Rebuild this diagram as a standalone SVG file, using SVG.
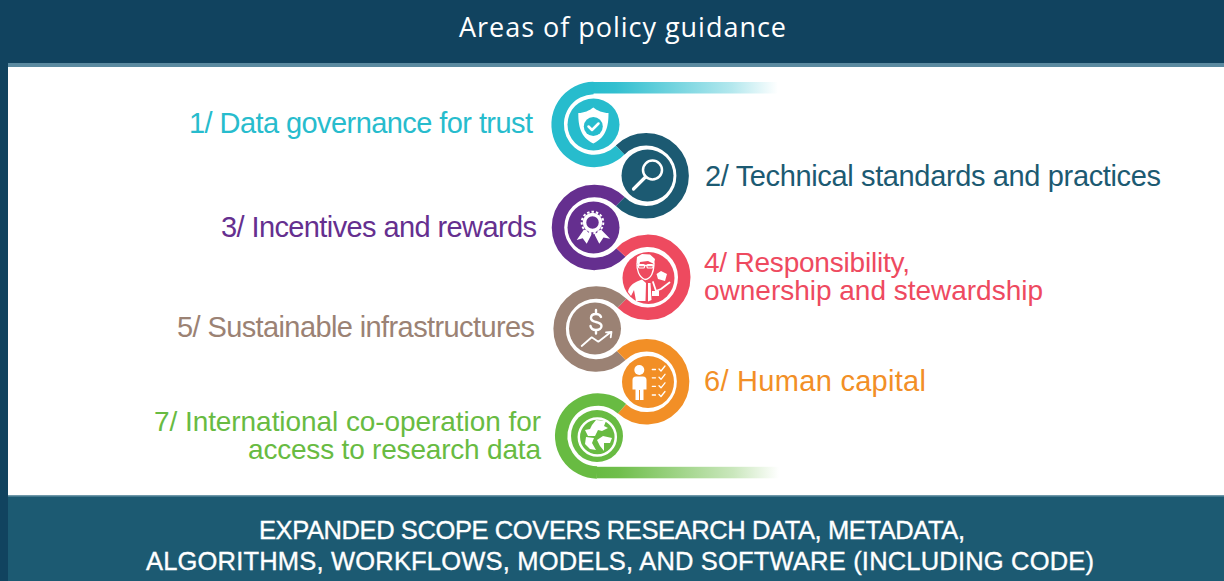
<svg xmlns="http://www.w3.org/2000/svg" width="1224" height="581" viewBox="0 0 1224 581">
<style>
.ring{fill:none;stroke-width:12.5}
.lbl{font-family:"Liberation Sans",Arial,sans-serif;font-size:29px}
.two{font-size:28px}
.foot{font-family:"Liberation Sans",Arial,sans-serif;font-size:25.5px;fill:#fff;stroke:#fff;stroke-width:.35px;text-anchor:middle}
.ico{fill:#fff;stroke:none}
.ln{fill:none;stroke:#fff;stroke-linecap:round;stroke-linejoin:round}
</style>
<defs>
<linearGradient id="gTeal" x1="0" x2="1" y1="0" y2="0"><stop offset="0" stop-color="#27bccd"/><stop offset=".12" stop-color="#27bccd" stop-opacity=".95"/><stop offset=".75" stop-color="#27bccd" stop-opacity=".35"/><stop offset="1" stop-color="#27bccd" stop-opacity="0"/></linearGradient>
<linearGradient id="gGreen" x1="0" x2="1" y1="0" y2="0"><stop offset="0" stop-color="#68bb42"/><stop offset=".12" stop-color="#68bb42" stop-opacity=".95"/><stop offset=".75" stop-color="#68bb42" stop-opacity=".35"/><stop offset="1" stop-color="#68bb42" stop-opacity="0"/></linearGradient>
</defs>
<rect width="1224" height="581" fill="#11435f"/>
<rect x="8" y="63" width="1216" height="4.500" fill="#5b8aa0"/>
<rect x="8" y="67" width="1216" height="429" fill="#fff"/>
<rect x="8" y="495.500" width="1216" height="85.500" fill="#1c5a72"/>
<rect x="8" y="495" width="1216" height="1.500" fill="#6f98a9"/>
<text id="title" x="622.500" y="37" text-anchor="middle" font-family="'Open Sans','Noto Sans',sans-serif" font-size="27" fill="#fff" textLength="327">Areas of policy guidance</text>

<g id="node1">
<rect x="593" y="82" width="185" height="11.500" fill="url(#gTeal)"/>
<path class="ring" stroke="#27bccd" d="M593.500,88 A36.500,36.500 0 1 0 620.250,150"/>
<circle cx="593.500" cy="124.500" r="26" fill="#27bccd"/>
<path class="ico" d="M593.300,107.500 C597,110.500 603,113 608.500,113 C608.500,125 607,137 593.300,143.500 C580,137 578.300,125 578.300,113 C584,113 589.500,110.500 593.300,107.500Z"/>
<circle cx="593.300" cy="126.500" r="9.500" fill="#27bccd"/>
<path class="ln" stroke-width="2.500" d="M588.500,126.500 L592,130 L598.500,123.500"/>
<text class="lbl" x="533" y="133" fill="#27bccd" text-anchor="end" textLength="344">1/ Data governance for trust</text>
</g>

<g id="node2">
<path class="ring" stroke="#1c5a72" d="M620.250,150 A36.500,36.500 0 1 1 620.250,201.500"/>
<circle cx="647.500" cy="175.500" r="26" fill="#1c5a72"/>
<circle class="ln" cx="652.500" cy="170" r="9.500" stroke-width="2.500"/>
<path class="ln" stroke-width="3.200" d="M645.500,177 L633.500,189"/>
<text class="lbl" x="705" y="186" fill="#1c5a72" textLength="456">2/ Technical standards and practices</text>
</g>

<g id="node3">
<path class="ring" stroke="#652f8f" d="M620.250,201.500 A36.500,36.500 0 1 0 621,252.500"/>
<circle cx="593.500" cy="227.500" r="26" fill="#652f8f"/>
<circle class="ln" cx="592.500" cy="222.500" r="8" stroke-width="3.500"/>
<circle cx="592.500" cy="222.500" r="10.800" fill="none" stroke="#fff" stroke-width="2" stroke-dasharray="2.500 2"/>
<path class="ico" d="M584,229.500 L576.700,240 L582.700,238.200 L586.700,243.800 L591.500,234.500Z M601,229.500 L610,238.800 L603.500,237.500 L599.300,243.800 L594.500,234.500Z"/>
<text class="lbl" x="537" y="237" fill="#652f8f" text-anchor="end" textLength="316">3/ Incentives and rewards</text>
</g>

<g id="node4">
<path class="ring" stroke="#ee4a5f" d="M621,252.500 A36.500,36.500 0 1 1 622,303.250"/>
<circle cx="648.500" cy="278" r="26" fill="#ee4a5f"/>
<path class="ico" d="M636.500,262 L637,257 L642,254 L650,254.500 L655,259 L654,264 L648,261 L640,262 L639,266Z"/>
<path class="ln" stroke-width="1.300" d="M637,263 C636.500,270 639,277 645,279.500 C651,279 654,272 654,263 M637,265.500 H654"/>
<rect x="638.500" y="264.500" width="6" height="3.500" rx="1" class="ln" stroke-width="1.100"/>
<rect x="647" y="264.500" width="6" height="3.500" rx="1" class="ln" stroke-width="1.100"/>
<path class="ico" d="M628,292 C629,285 635,282 642,279.500 L646,283 L645.500,301 L636,301 L634,290 L631,296Z"/>
<path class="ico" d="M648,283 L650.500,283 L651.500,300 L648,301.500Z"/>
<path class="ln" stroke-width="1.800" d="M653,282 L656,291 L661,289 L669.500,282.500"/>
<path class="ico" d="M661,271 L667,274 L665,281 L658,279 L656.500,274Z"/>
<rect x="652" y="291" width="7" height="5" class="ico"/>
<text class="lbl two" x="704" y="272" fill="#ee4a5f" textLength="206">4/ Responsibility,</text>
<text class="lbl two" x="704" y="300" fill="#ee4a5f" textLength="339">ownership and stewardship</text>
</g>

<g id="node5">
<path class="ring" stroke="#9b8274" d="M622,303.250 A36.500,36.500 0 1 0 621.250,355.500"/>
<circle cx="595" cy="328.500" r="26" fill="#9b8274"/>
<path class="ln" stroke-width="2.400" d="M601,317 C600,314.500 598,314 596,314 C592.500,314 591,316 591,318 C591,321 594,321.500 596,322 C599,322.700 601.500,323.500 601.500,326 C601.500,328.500 599,330 596,330 C593,330 591,329 590.500,326 M596,310 V314 M596,330 V333.500"/>
<path class="ln" stroke-width="1.800" d="M581.700,346 L591.700,337.300 L598.300,341.700 L610,332.700 M606,332.300 L611.500,331.800 L610.700,337.300"/>
<text class="lbl" x="535" y="337" fill="#9b8274" text-anchor="end" textLength="358">5/ Sustainable infrastructures</text>
</g>

<g id="node6">
<path class="ring" stroke="#f28f26" d="M621.250,355.500 A36.500,36.500 0 1 1 622,408.750"/>
<circle cx="648" cy="382" r="26" fill="#f28f26"/>
<circle class="ico" cx="639.300" cy="370" r="5"/>
<path class="ico" d="M632.500,380 Q632.500,376.500 636,376.500 H643 Q646.500,376.500 646.500,380 V389.500 H643.500 V400 H640 V390 H639 V400 H635.500 V389.500 H632.500Z"/>
<path class="ln" stroke-width="1.300" d="M652.300,369.500 H655.500 M652.300,377.800 H655.500 M652.300,386.300 H655.500 M652.300,395 H655.500 M659,369 L661,371 L665,366 M659,377.300 L661,379.300 L665,374.300 M659,385.800 L661,387.800 L665,382.800 M659,394.500 L661,396.500 L665,391.500"/>
<text class="lbl" x="704" y="391" fill="#f28f26" textLength="222">6/ Human capital</text>
</g>

<g id="node7">
<rect x="597" y="466.800" width="182" height="11.500" fill="url(#gGreen)"/>
<path class="ring" stroke="#68bb42" d="M622,408.750 A36.500,36.500 0 1 0 597,472.500"/>
<circle cx="597" cy="436" r="26" fill="#68bb42"/>
<circle class="ln" cx="597.300" cy="437" r="18.500" stroke-width="2.500"/>
<path class="ico" d="M596,420 L606,421 L604,426 L608,428 L602,431 L598,430 L595,436 L588,436 L585,430 L590,429 L592,425Z M586,437 L594,438 L592,443 L596,450 L590,449 L585,444Z M597,440 L603,436 L612,438 L610,443 L604,443 L604,451 L600,446Z"/>
<text class="lbl two" x="541" y="431" fill="#68bb42" text-anchor="end" textLength="387">7/ International co-operation for</text>
<text class="lbl two" x="541" y="459" fill="#68bb42" text-anchor="end" textLength="293">access to research data</text>
</g>

<g id="connectors"></g>

<g id="footer">
<text class="foot" x="612" y="539" textLength="706">EXPANDED SCOPE COVERS RESEARCH DATA, METADATA,</text>
<text class="foot" x="620" y="570" textLength="948">ALGORITHMS, WORKFLOWS, MODELS, AND SOFTWARE (INCLUDING CODE)</text>
</g>
</svg>
